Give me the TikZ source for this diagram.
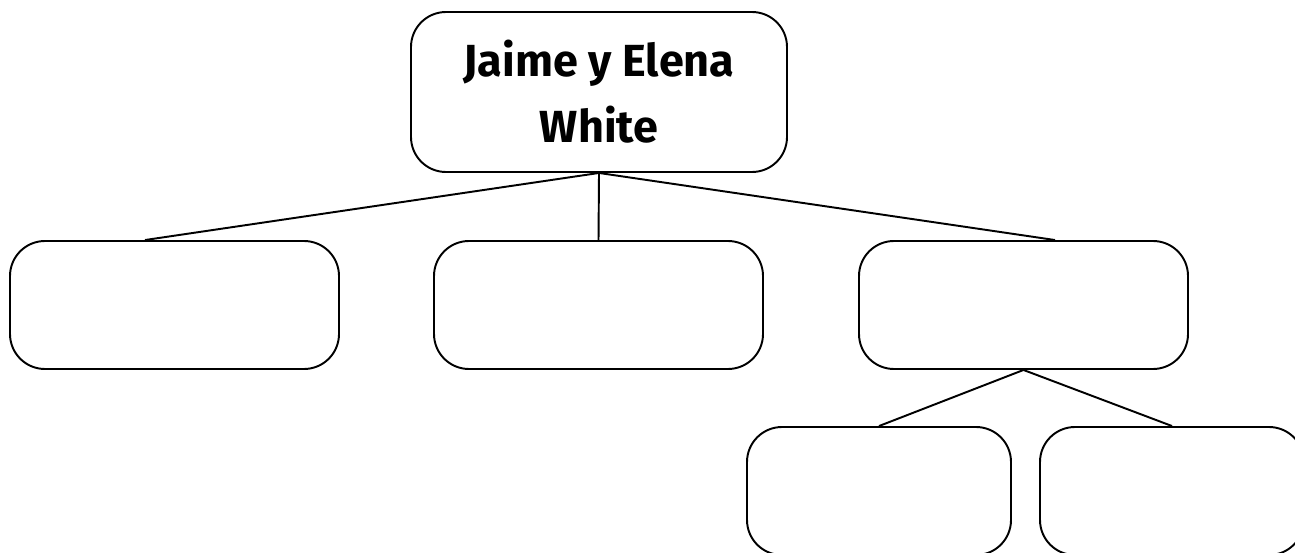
\documentclass[tikz,border=0pt]{standalone}
\usepackage{fontspec}
\setmainfont{Fira Sans}
\begin{document}
\begin{tikzpicture}[line width=1.1pt,
  box/.style={draw,rounded corners=0.7cm,minimum width=6.58cm,minimum height=2.56cm},
  kidbox/.style={box,minimum width=5.28cm}]
\useasboundingbox (0,0) rectangle (25.9,-11.06);
\node[box,minimum width=7.52cm,minimum height=3.2cm,align=center,font=\fontsize{25.6}{37.5}\selectfont\bfseries] (parents) at (11.98,-1.84) {Jaime y Elena\\White};
\node[box] (child1) at (3.49,-6.1) {};
\node[box] (child2) at (11.97,-6.1) {};
\node[box] (child3) at (20.47,-6.1) {};
\node[kidbox] (grand1) at (17.58,-9.82) {};
\node[kidbox] (grand2) at (23.44,-9.82) {};
\draw (parents.south)--([xshift=-0.59cm]child1.north);
\draw (parents.south)--(child2.north);
\draw (parents.south)--([xshift=0.63cm]child3.north);
\draw (child3.south)--(grand1.north);
\draw (child3.south)--(grand2.north);
\end{tikzpicture}
\end{document}
